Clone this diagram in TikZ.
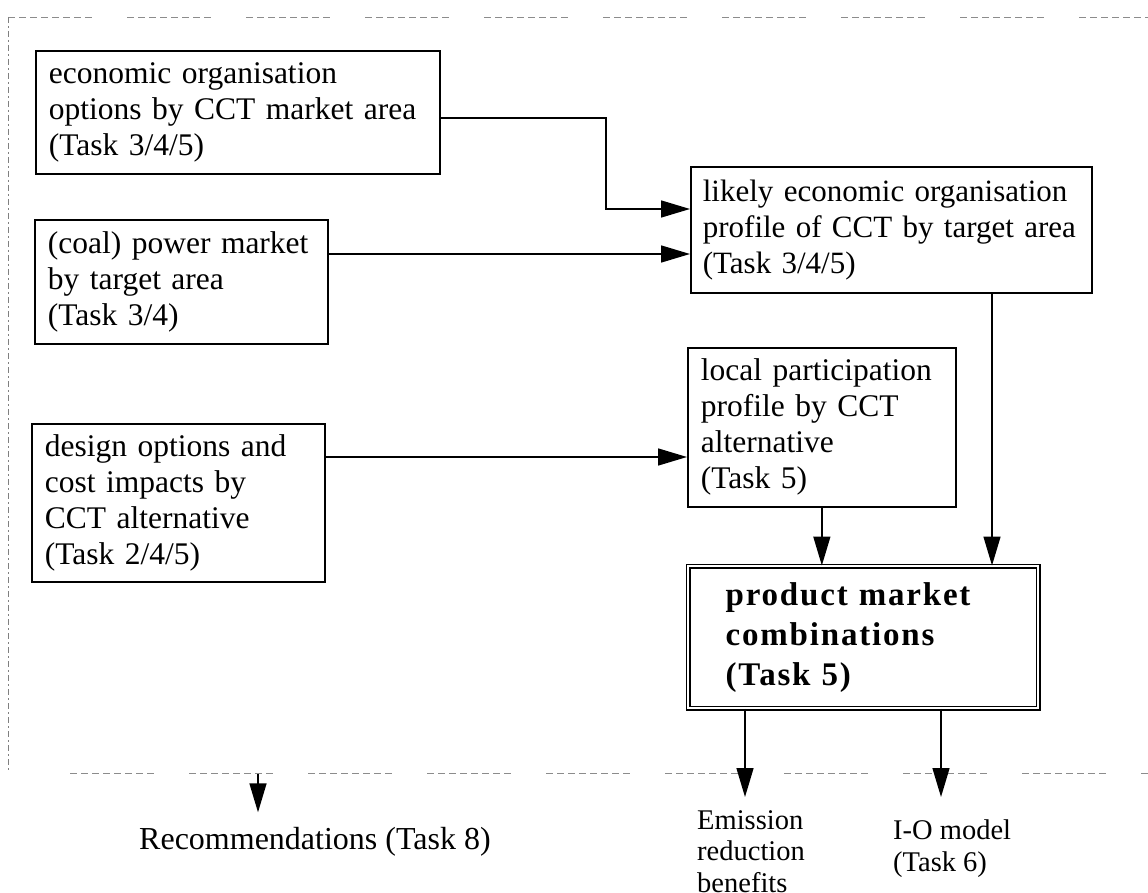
\documentclass[tikz,border=0pt]{standalone}
\usepackage{fontspec}
\setmainfont{Liberation Serif}
\usetikzlibrary{arrows.meta}
\begin{document}
\begin{tikzpicture}[x=1pt,y=-1pt,
  boxtxt/.style={draw, line width=1.7pt, anchor=north west, align=left, inner xsep=13pt, inner ysep=0pt,
    font={\fontsize{31.5}{36}\selectfont\hyphenpenalty 10000\relax}},
  conn/.style={line width=1.5pt},
  arr/.style={conn, -{Triangle[length=29pt,width=17pt]}},
  framedash/.style={draw=black!45, line width=0.9pt,
    dash pattern=on 7pt off 4pt on 7pt off 4pt on 7pt off 4pt on 7pt off 4pt on 7pt off 4pt on 7pt off 4pt on 7pt off 4pt on 7pt off 35pt},
  sidedash/.style={draw=black!50, line width=0.9pt, dash pattern=on 6pt off 3pt on 2pt off 3pt},
  outtxt/.style={inner sep=0pt, align=left, font=\fontsize{28.5}{31.5}\selectfont}
]
\clip (0,0) rectangle (1148,893);
\fill[white] (0,0) rectangle (1148,893);

% dashed frame
\coordinate (ftl) at (8,17);
\coordinate (ftr) at (1148,17);
\coordinate (fbl) at (8,770);
\coordinate (fbs) at (70,773);
\coordinate (fbr) at (1148,773);
\draw[framedash] (ftl) -- (ftr);
\draw[sidedash] (ftl) -- (fbl);
\draw[framedash] (fbs) -- (fbr);

% boxes
\node[boxtxt, text width=378pt, minimum height=123pt] (b1) at (35,50)
  {economic organisation\\\mbox{options by CCT market area}\\(Task 3/4/5)};
\node[boxtxt, text width=267pt, minimum height=124pt] (b2) at (34,219)
  {\mbox{(coal) power market}\\by target area\\(Task 3/4)};
\node[boxtxt, text width=267pt, minimum height=158pt] (b3) at (31,423)
  {\mbox{design options and}\\cost impacts by\\CCT alternative\\(Task 2/4/5)};
\node[boxtxt, inner xsep=12pt, text width=377pt, minimum height=126pt,
  font={\fontsize{31}{36}\selectfont}] (b4) at (690,166)
  {\mbox{likely economic organisation}\\\mbox{profile of CCT by target area}\\(Task 3/4/5)};
\node[boxtxt, text width=242pt, minimum height=159pt] (b5) at (687,347)
  {\mbox{local participation}\\profile by CCT\\alternative\\(Task 5)};
\node[draw, double, double distance=2.4pt, line width=1.3pt, anchor=north west, align=left,
  inner xsep=37.5pt, inner ysep=0pt, text width=275pt, minimum height=142pt,
  font=\fontsize{33}{40}\selectfont\bfseries\addfontfeature{LetterSpace=5.5}] (b6) at (687.5,565.5)
  {\mbox{product market}\\combinations\\(Task 5)};

% outputs
\node[outtxt, anchor=north west] (em) at (697,810) {Emission\\reduction\\benefits};
\node[outtxt, anchor=north west] (io) at (893,820) {I-O model\\(Task 6)};
\node[inner sep=0pt, anchor=west, font=\fontsize{32}{36}\selectfont] (rec) at (139,842) {Recommendations (Task 8)};

% connectors
\coordinate (k1) at (606,118);
\coordinate (k1b) at (606,209);
\draw[arr] (b1.east |- k1) -| (k1b) -- (b4.west |- k1b);
\coordinate (k2) at (0,254);
\draw[arr] (b2.east |- k2) -- (b4.west |- k2);
\coordinate (k3) at (0,457);
\draw[arr] (b3.east |- k3) -- (b5.west |- k3);
\draw[arr] (b5.south) -- (b5.south |- b6.north);
\coordinate (k5) at (992,0);
\draw[arr] (b4.south -| k5) -- (b6.north -| k5);
\coordinate (k6) at (745,0);
\draw[arr, shorten >=13pt] (b6.south -| k6) -- (em.north -| k6);
\coordinate (k7) at (941,0);
\draw[arr, shorten >=23pt] (b6.south -| k7) -- (io.north -| k7);
\coordinate (r0) at (258,774);
\draw[arr, shorten >=15pt] (r0) -- (r0 |- rec.north);
\end{tikzpicture}
\end{document}
